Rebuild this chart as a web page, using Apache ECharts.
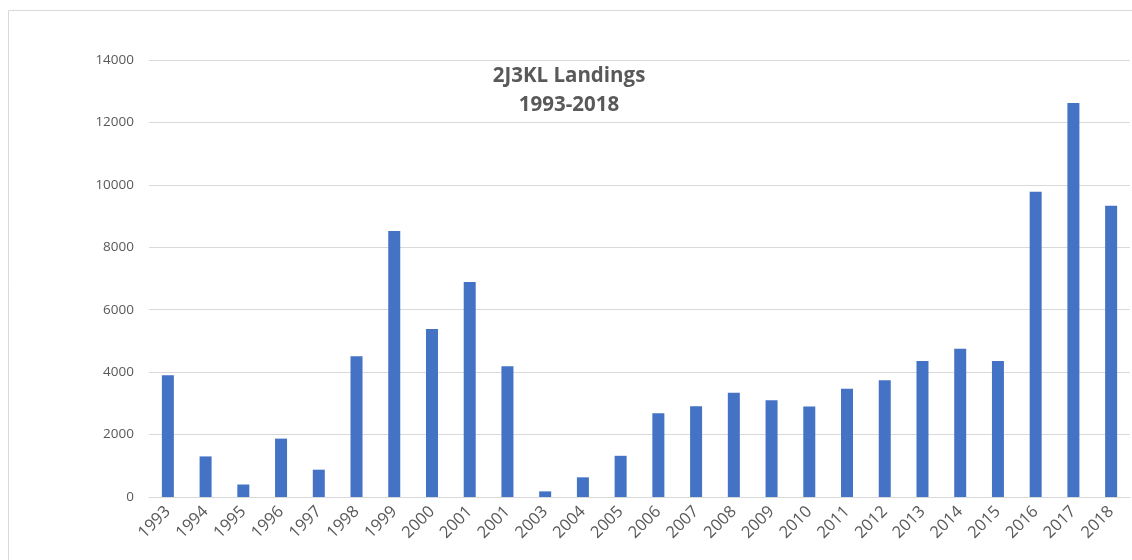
<!DOCTYPE html>
<html>
<head>
<meta charset="utf-8">
<title>2J3KL Landings</title>
<script src="https://cdn.jsdelivr.net/npm/echarts@6/dist/echarts.min.js"></script>
<style>
  html, body { margin: 0; padding: 0; background: #fff; }
  #container { width: 1132px; height: 560px; }
</style>
</head>
<body>
<div id="container"></div>
<script>
// 年份（原图中2002写成了2001，照原样保留）
var years = ['1993', '1994', '1995', '1996', '1997', '1998', '1999', '2000', '2001', '2001',
  '2003', '2004', '2005', '2006', '2007', '2008', '2009', '2010', '2011', '2012',
  '2013', '2014', '2015', '2016', '2017', '2018'];
// 上岸量
var landings = [3900, 1300, 400, 1870, 875, 4510, 8520, 5380, 6890, 4190,
  180, 630, 1320, 2680, 2910, 3340, 3100, 2900, 3470, 3740,
  4360, 4750, 4360, 9780, 12620, 9330];
var titleLines = ['2J3KL Landings', '1993-2018'];

var myChart = echarts.init(document.getElementById('container'));
var option = {
  animation: false,
  title: {
    text: titleLines.join('\n'),
    left: 564,
    top: 57,
    textAlign: 'center',
    textStyle: {
      color: '#595959',
      fontSize: 20.5,
      fontWeight: 'bold',
      fontFamily: 'Open Sans',
      lineHeight: 29
    }
  },
  graphic: [{
    type: 'rect',
    shape: { x: 8.5, y: 10.5, width: 1140, height: 600 },
    style: { fill: 'none', stroke: '#d9d9d9', lineWidth: 1 },
    silent: true
  }],
  grid: { left: 149, right: 2, top: 60, bottom: 63 },
  xAxis: {
    type: 'category',
    data: years,
    axisLine: { show: true, lineStyle: { color: '#d9d9d9' } },
    axisTick: { show: false },
    axisLabel: {
      rotate: 45,
      interval: 0,
      margin: 12,
      color: '#595959',
      fontSize: 16.5,
      fontFamily: 'Open Sans'
    }
  },
  yAxis: {
    type: 'value',
    min: 0,
    max: 14000,
    interval: 2000,
    axisLine: { show: false },
    axisTick: { show: false },
    splitLine: { lineStyle: { color: '#d9d9d9' } },
    axisLabel: {
      margin: 15,
      color: '#595959',
      fontSize: 13.5,
      fontFamily: 'Open Sans',
      formatter: function (v) { return String(v); }
    }
  },
  series: [{
    type: 'bar',
    data: landings,
    barWidth: 12,
    itemStyle: { color: '#4472c4' }
  }]
};
myChart.setOption(option);
</script>
</body>
</html>
